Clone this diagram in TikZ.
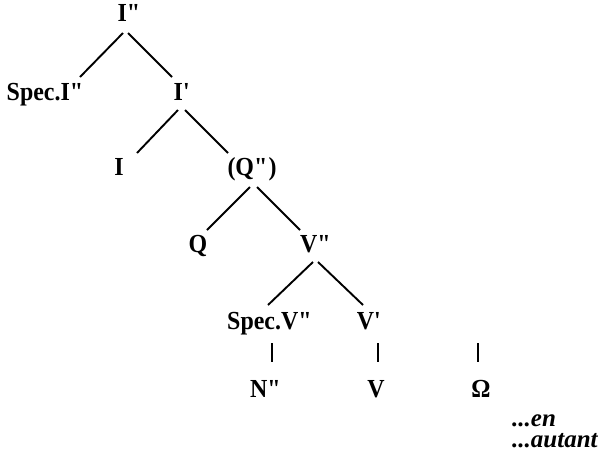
\documentclass[tikz,border=0pt]{standalone}
\usepackage{fontspec}
\setmainfont{Liberation Serif}
\newfontfamily\treefont{Liberation Serif}[FakeStretch=0.92]
\newcommand{\dq}{\textquotedbl}
\newcommand{\sq}{\textquotesingle}
\begin{document}
\begin{tikzpicture}[x=1pt,y=-1pt,
  lab/.style={anchor=base,inner sep=0pt,font=\treefont\fontsize{26}{30}\selectfont\bfseries},
  labw/.style={anchor=base west,inner sep=0pt,align=left,font=\fontsize{25}{21}\selectfont\bfseries\itshape},
  branch/.style={line width=1.9pt}]
\useasboundingbox (0,0) rectangle (602,461);
\node[lab] (top)   at (129.5,21) {I\dq};
\node[lab] (specI) at (45.5,100) {Spec.I\dq};
\node[lab] (Ibar)  at (182,100) {I\sq};
\node[lab] (I)     at (119,175) {I};
\node[lab] (Qpp)   at (252,175) {(Q\dq)};
\node[lab] (Q)     at (198,252) {Q};
\node[lab] (Vpp)   at (316,252) {V\dq};
\node[lab] (specV) at (270,329) {Spec.V\dq};
\node[lab] (Vbar)  at (369,329) {V\sq};
\node[lab] (Npp)   at (266,397) {N\dq};
\node[lab] (V)     at (376,397) {V};
\node[lab] (Om)    at (481,397) {Ω};
\node[labw] (en)   at (512,447) {...en\\...autant};
\coordinate (omtop) at (478,343);
\draw[branch] ([shift={(-6.5pt,-12pt)}]top.base) -- ([shift={(34.5pt,23pt)}]specI.base);
\draw[branch] ([shift={(-1.5pt,-12pt)}]top.base) -- ([shift={(-10pt,23pt)}]Ibar.base);
\draw[branch] ([shift={(-4pt,-10pt)}]Ibar.base) -- ([shift={(18pt,22pt)}]I.base);
\draw[branch] ([shift={(3pt,-10pt)}]Ibar.base) -- ([shift={(-24pt,22pt)}]Qpp.base);
\draw[branch] ([shift={(-2pt,-12pt)}]Qpp.base) -- ([shift={(9pt,22pt)}]Q.base);
\draw[branch] ([shift={(5pt,-12pt)}]Qpp.base) -- ([shift={(-16pt,22pt)}]Vpp.base);
\draw[branch] ([shift={(-3pt,-10pt)}]Vpp.base) -- ([shift={(-2pt,24pt)}]specV.base);
\draw[branch] ([shift={(2pt,-10pt)}]Vpp.base) -- ([shift={(-6pt,24pt)}]Vbar.base);
\draw[branch] ([shift={(2pt,-14pt)}]specV.base) -- ([shift={(6pt,35pt)}]Npp.base);
\draw[branch] ([shift={(9pt,-14pt)}]Vbar.base) -- ([shift={(2pt,35pt)}]V.base);
\draw[branch] (omtop) -- ([shift={(-3pt,35pt)}]Om.base);
\end{tikzpicture}
\end{document}
